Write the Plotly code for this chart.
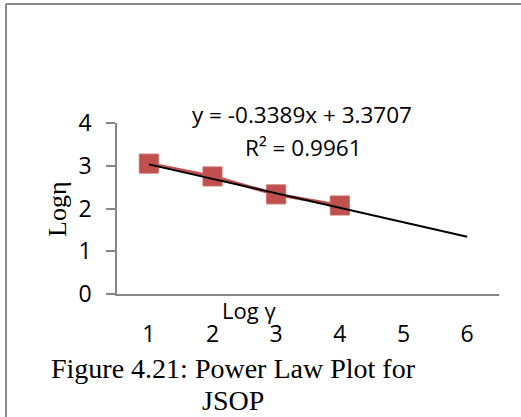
import plotly.graph_objects as go

# Data
log_shear = [1, 2, 3, 4]
log_visc = [3.05, 2.75, 2.33, 2.07]
trend_x = [1, 6]
trend_y = [3.032, 1.337]
x_ticks = [1, 2, 3, 4, 5, 6]
y_ticks = [0, 1, 2, 3, 4]
equation = "y = -0.3389x + 3.3707"
r2_text = "R² = 0.9961"

W, H = 521, 417
L, R, T, B = 117, 22, 123, 123
pw, ph = W - L - R, H - T - B

def px(x):
    return (x - L) / pw

def py(y):
    return (H - B - y) / ph

fig = go.Figure()
fig.add_trace(go.Scatter(
    x=log_shear, y=log_visc, mode="lines+markers",
    line=dict(color="#C0504D", width=3.5),
    marker=dict(symbol="square", size=19, color="#C0504D",
                line=dict(color="#C96562", width=1)),
    showlegend=False, cliponaxis=False,
))
fig.add_trace(go.Scatter(
    x=trend_x, y=trend_y, mode="lines",
    line=dict(color="black", width=2), showlegend=False, cliponaxis=False,
))

sans = "Open Sans"
serif = "Liberation Serif"

def ann(text, x, y, family, size, angle=0):
    return dict(text=text, xref="paper", yref="paper", x=px(x), y=py(y),
                xanchor="center", yanchor="middle", showarrow=False,
                textangle=angle, font=dict(family=family, size=size, color="black"))

fig.update_layout(
    width=W, height=H, margin=dict(l=L, r=R, t=T, b=B),
    paper_bgcolor="white", plot_bgcolor="white",
    xaxis=dict(range=[0.5, 6.5], tickvals=x_ticks, showgrid=False, zeroline=False,
               showline=True, linecolor="#868686", linewidth=1.5, ticks="",
               tickfont=dict(family=sans, size=23, color="black"),
               ticklabelstandoff=19),
    yaxis=dict(range=[0, 4], tickvals=y_ticks, showgrid=False, zeroline=False,
               showline=True, linecolor="#868686", linewidth=1.5, ticks="outside",
               ticklen=9, tickcolor="#868686", tickwidth=1.5,
               tickfont=dict(family=sans, size=23, color="black"),
               ticklabelstandoff=10),
    shapes=[
        dict(type="line", xref="paper", yref="paper", x0=px(6), x1=px(6),
             y0=py(417), y1=py(4), line=dict(color="#888888", width=2)),
        dict(type="line", xref="paper", yref="paper", x0=px(6), x1=px(521),
             y0=py(4), y1=py(4), line=dict(color="#888888", width=2)),
    ],
    annotations=[
        ann(equation, 302, 114, sans, 22.5),
        ann(r2_text, 303, 147, sans, 22.5),
        ann("Log γ", 249, 310, sans, 22),
        ann("Logη", 57, 210, serif, 26, -90),
        ann("Figure 4.21: Power Law Plot for", 233, 368, serif, 28),
        ann("JSOP", 233, 400, serif, 28),
    ],
)

fig.write_html("out.html")
